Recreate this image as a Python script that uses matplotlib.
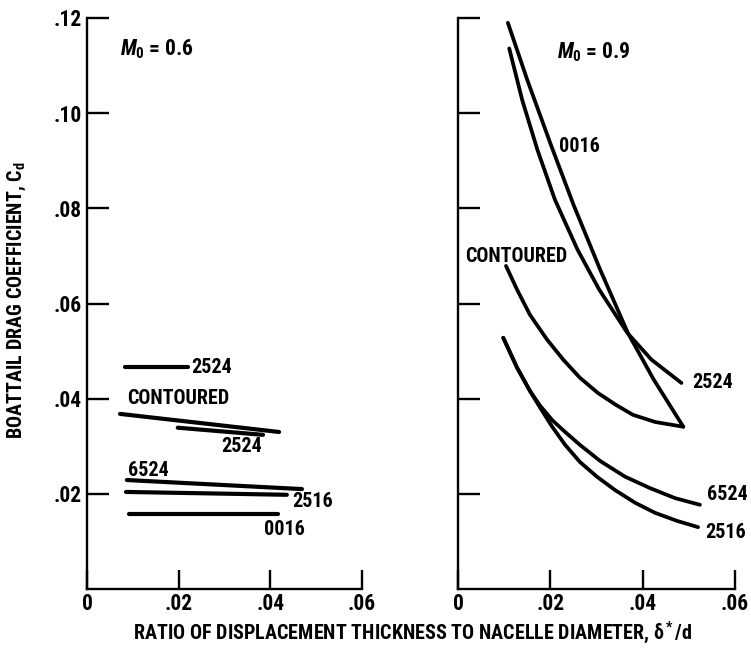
import matplotlib
matplotlib.use("Agg")
import matplotlib.pyplot as plt
from matplotlib import font_manager as fm


def pick_condensed_font():
    """Return (family, stretch) of a bold-capable condensed sans face if one is installed."""
    entries = fm.fontManager.ttflist
    preferred = ["Liberation Sans Narrow", "Roboto Condensed", "Noto Sans Condensed",
                 "Open Sans Condensed", "DejaVu Sans Condensed", "Noto Sans", "DejaVu Sans",
                 "Open Sans", "Roboto"]
    narrow = [f for f in entries
              if "condensed" in f.name.lower() or "narrow" in f.name.lower()
              or str(f.stretch) in ("condensed", "semi-condensed", "extra-condensed", "ultra-condensed")]
    for fam in preferred:
        for f in narrow:
            if f.name == fam:
                return f.name, f.stretch
    if narrow:
        return narrow[0].name, narrow[0].stretch
    return "Liberation Sans", "normal"


FAMILY, STRETCH = pick_condensed_font()
plt.rcParams['font.family'] = [FAMILY, 'DejaVu Sans']
plt.rcParams['font.stretch'] = STRETCH
plt.rcParams['font.weight'] = 'bold'
plt.rcParams['mathtext.fontset'] = 'custom'
plt.rcParams['mathtext.rm'] = FAMILY + ':bold'
plt.rcParams['mathtext.it'] = FAMILY + ':italic:bold'
plt.rcParams['mathtext.bf'] = FAMILY + ':bold'

# ---- M0 = 0.6 : boattail drag vs delta*/d ----
lo_2524a_x = [0.0083, 0.0220]
lo_2524a_y = [0.0467, 0.0467]
lo_cont_x = [0.0072, 0.0419]
lo_cont_y = [0.0368, 0.0330]
lo_2524b_x = [0.0198, 0.0384]
lo_2524b_y = [0.0339, 0.0324]
lo_6524_x = [0.0087, 0.0469]
lo_6524_y = [0.0229, 0.0210]
lo_2516_x = [0.0085, 0.0436]
lo_2516_y = [0.0204, 0.0198]
lo_0016_x = [0.0092, 0.0417]
lo_0016_y = [0.0158, 0.0158]

# ---- M0 = 0.9 ----
hi_0016_x = [0.0108, 0.0150, 0.0201, 0.0250, 0.0308, 0.0368, 0.0424, 0.0488]
hi_0016_y = [0.1190, 0.1070, 0.0934, 0.0808, 0.0671, 0.0538, 0.0440, 0.0341]
hi_2524_x = [0.0111, 0.0139, 0.0172, 0.0210, 0.0259, 0.0306, 0.0367, 0.0419, 0.0484]
hi_2524_y = [0.1136, 0.1028, 0.0923, 0.0818, 0.0713, 0.0629, 0.0538, 0.0482, 0.0433]
hi_cont_x = [0.0104, 0.0128, 0.0156, 0.0193, 0.0228, 0.0264, 0.0303, 0.0342, 0.0379, 0.0427, 0.0488]
hi_cont_y = [0.0679, 0.0629, 0.0576, 0.0524, 0.0482, 0.0444, 0.0412, 0.0387, 0.0366, 0.0351, 0.0341]
hi_6524_x = [0.0098, 0.0128, 0.0156, 0.0178, 0.0204, 0.0232, 0.0264, 0.0308, 0.0362, 0.0416, 0.0470, 0.0524]
hi_6524_y = [0.0528, 0.0465, 0.0416, 0.0385, 0.0355, 0.0330, 0.0303, 0.0269, 0.0236, 0.0212, 0.0191, 0.0177]
hi_2516_x = [0.0098, 0.0128, 0.0156, 0.0178, 0.0204, 0.0232, 0.0264, 0.0301, 0.0340, 0.0384, 0.0427, 0.0475, 0.0520]
hi_2516_y = [0.0528, 0.0465, 0.0416, 0.0381, 0.0341, 0.0303, 0.0267, 0.0236, 0.0208, 0.0181, 0.0160, 0.0143, 0.0130]

# curve labels: text, x, y
lo_labels = [("2524", 0.0227, 0.0465), ("CONTOURED", 0.0087, 0.0400),
             ("2524", 0.0294, 0.0299), ("6524", 0.0089, 0.0248),
             ("2516", 0.0447, 0.0183), ("0016", 0.0386, 0.0126)]
hi_labels = [("0016", 0.0219, 0.0930), ("CONTOURED", 0.0015, 0.0698),
             ("2524", 0.0507, 0.0435), ("6524", 0.0540, 0.0198),
             ("2516", 0.0535, 0.0118)]

x_ticks = [0, 0.02, 0.04, 0.06]
x_ticklabels = ["0", ".02", ".04", ".06"]
y_ticks = [0.02, 0.04, 0.06, 0.08, 0.10, 0.12]
y_ticklabels = [".02", ".04", ".06", ".08", ".10", ".12"]

W, H = 751, 648
fig = plt.figure(figsize=(W / 100, H / 100), dpi=100)
ax_lo = fig.add_axes([87 / W, 59 / H, 275 / W, 571 / H])
ax_hi = fig.add_axes([458 / W, 59 / H, 277 / W, 571 / H])

FS = 14.5
FS_TICK = 15.5


def style_axes(ax, show_ylabels):
    ax.set_xlim(0, 0.06)
    ax.set_ylim(0, 0.12)
    for s in ("top", "right"):
        ax.spines[s].set_visible(False)
    for s in ("left", "bottom"):
        ax.spines[s].set_linewidth(1.7)
        ax.spines[s].set_color("black")
    ax.set_xticks(x_ticks)
    ax.set_xticklabels(x_ticklabels, fontsize=FS_TICK, fontweight="bold")
    ax.set_yticks(y_ticks)
    if show_ylabels:
        ax.set_yticklabels(y_ticklabels, fontsize=FS_TICK, fontweight="bold")
    else:
        ax.set_yticklabels([])
    ax.tick_params(axis="y", direction="in", length=16, width=1.7, pad=4)
    ax.tick_params(axis="x", direction="in", length=14, width=1.7, pad=3)
    ax.patch.set_alpha(0)


style_axes(ax_lo, True)
style_axes(ax_hi, False)

lw_lo = 3.0
for xs, ys in [(lo_2524a_x, lo_2524a_y), (lo_cont_x, lo_cont_y),
               (lo_2524b_x, lo_2524b_y), (lo_6524_x, lo_6524_y),
               (lo_2516_x, lo_2516_y), (lo_0016_x, lo_0016_y)]:
    ax_lo.plot(xs, ys, color="black", lw=lw_lo, solid_capstyle="round")

lw_hi = 2.7
for xs, ys in [(hi_0016_x, hi_0016_y), (hi_2524_x, hi_2524_y),
               (hi_cont_x, hi_cont_y), (hi_6524_x, hi_6524_y),
               (hi_2516_x, hi_2516_y)]:
    ax_hi.plot(xs, ys, color="black", lw=lw_hi, solid_capstyle="round",
               solid_joinstyle="round", clip_on=False)

for ax, labels in [(ax_lo, lo_labels), (ax_hi, hi_labels)]:
    for txt, x, y in labels:
        ax.text(x, y, txt, fontsize=FS, fontweight="bold", ha="left", va="center")

ax_lo.text(0.0072, 0.1134, r"$M_\mathregular{0}$ = 0.6", fontsize=15.5, fontweight="bold",
           ha="left", va="center")
ax_hi.text(0.0215, 0.1129, r"$M_\mathregular{0}$ = 0.9", fontsize=15.5, fontweight="bold",
           ha="left", va="center")

fig.text(413 / W, 1 - 633 / H,
         r"RATIO OF DISPLACEMENT THICKNESS TO NACELLE DIAMETER, $\mathregular{\delta^*}$/d",
         fontsize=14.5, fontweight="bold", ha="center", va="center")
fig.text(17 / W, 1 - 300 / H, r"BOATTAIL DRAG COEFFICIENT, C$_\mathregular{d}$",
         fontsize=14.5, fontweight="bold", ha="center", va="center", rotation=90)

fig.savefig("out.png", dpi=100)
